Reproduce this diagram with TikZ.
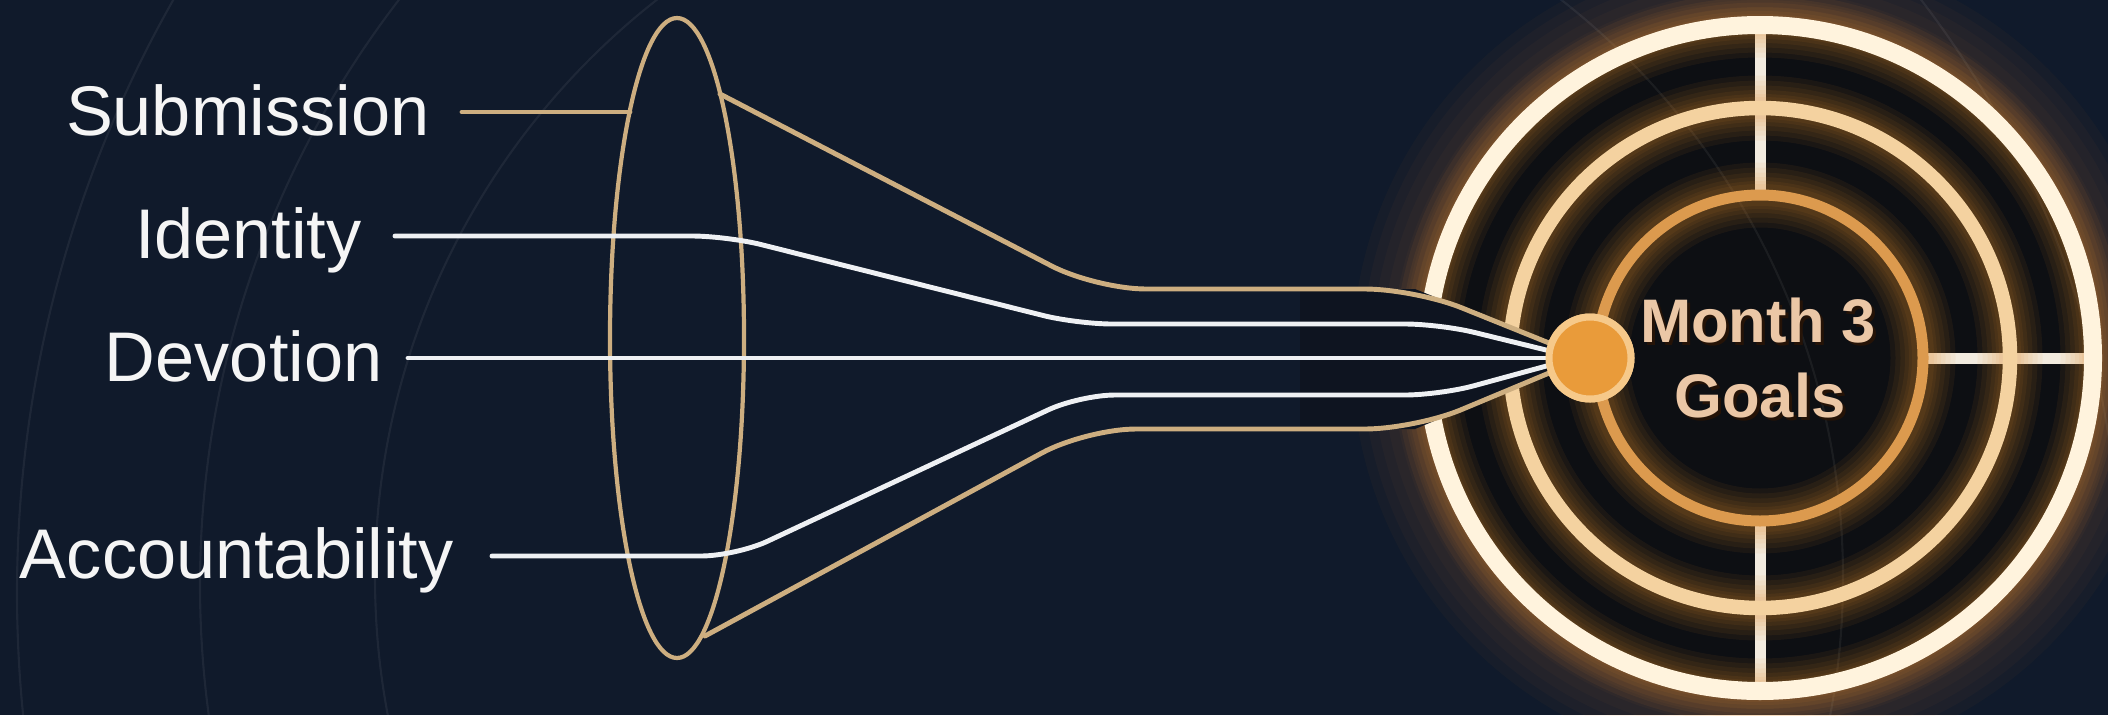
\documentclass[tikz,border=0pt]{standalone}
\usepackage{fontspec}
\setmainfont{Liberation Sans}
\usetikzlibrary{shapes.geometric}
\definecolor{bg}{HTML}{101A2B}
\definecolor{funnelbg}{HTML}{0E1420}
\definecolor{discc}{HTML}{0D0F13}
\definecolor{goldc}{HTML}{CDAE80}
\definecolor{whitec}{HTML}{EEF0F3}
\definecolor{labc}{HTML}{F5F5F5}
\definecolor{glowc}{HTML}{E08A2A}
\definecolor{ringA}{HTML}{FFF3DD}
\definecolor{ringB}{HTML}{F4D2A0}
\definecolor{ringC}{HTML}{DC9A4E}
\definecolor{dotfill}{HTML}{E99B3A}
\definecolor{dotrim}{HTML}{F6C98A}
\definecolor{goalc}{HTML}{EBC7A6}
\definecolor{goalsh}{HTML}{2A1405}
\definecolor{crossc}{HTML}{F2EBDF}
\begin{document}
\begin{tikzpicture}[x=0.1mm,y=-0.1mm,
  lab/.style={text=labc, font=\fontsize{20}{24}\selectfont, inner sep=0, outer sep=0},
  goal/.style={text=goalc, font=\bfseries\fontsize{17.5}{21}\selectfont, inner sep=0},
  goalshadow/.style={text=goalsh, opacity=0.85, font=\bfseries\fontsize{17.5}{21}\selectfont, inner sep=0},
  wline/.style={draw=whitec, line width=1.4pt, line cap=round},
  gline/.style={draw=goldc, line width=1.4pt, line cap=round, line join=round},
  faint/.style={draw=white, opacity=0.06, line width=0.6pt},
  cross/.style={draw=crossc, line width=1.1mm},
  glowline/.style={draw=glowc}
]
\fill[bg] (0,0) rectangle (2108,715);
\useasboundingbox (0,0) rectangle (2108,715);
\begin{scope}
\clip (0,0) rectangle (2108,715);
% outer halo and dark target disc
\foreach \w in {15mm,13mm,11mm,9mm,7mm,5mm,3.5mm}
  \draw[glowline, line width=\w, opacity=0.035] (1760,358) circle[radius=33.3mm];
\fill[discc] (1760,358) circle[radius=33.4mm];
% faint background arcs
\draw[faint] (1219,593) circle[radius=120.2mm];
\draw[faint] (1160,585) circle[radius=96mm];
\draw[faint] (1109,578) circle[radius=73.4mm];
% crosshair
\draw[cross] (1760,23) -- (1760,197);
\draw[cross] (1760,520) -- (1760,690);
\draw[cross] (1922,358) -- (2093,358);
% rings with glow
\foreach \r/\c/\cw in {33.3mm/ringA/1.8mm, 25mm/ringB/1.45mm, 16.3mm/ringC/1.1mm}{
  \foreach \w in {6.5mm,5.5mm,4.5mm,3.6mm,2.8mm,2.2mm}
    \draw[glowline, line width=\w, opacity=0.07] (1760,358) circle[radius=\r];
  \draw[draw=\c, line width=\cw] (1760,358) circle[radius=\r];
}
\end{scope}

% dot node (target hub)
\node[circle, fill=dotfill, draw=dotrim, line width=0.7mm, minimum size=8.2mm, inner sep=0, outer sep=0] (dot) at (1590,358) {};

% funnel interior covering the rings
\fill[funnelbg] (1300,289) -- (1415,289) -- (dot.160) -- (dot.200) -- (1415,429) -- (1300,429) -- cycle;

% ellipse (funnel mouth)
\node[ellipse, draw=goldc, line width=1.2pt, minimum width=13.4mm, minimum height=64mm, inner sep=0, outer sep=0] (ell) at (677,338) {};

% labels
\node[lab, anchor=base west] (sub) at (66,135) {Submission};
\node[lab, anchor=base west] (ide) at (135,258) {Identity};
\node[lab, anchor=base west] (dev) at (105,381) {Devotion};
\node[lab, anchor=base west] (acc) at (20,578) {Accountability};

% named line points
\coordinate (s0) at (462,112);
\coordinate (s1) at (630,112);
\coordinate (i0) at (395,236);
\coordinate (d0) at (408,358);
\coordinate (a0) at (492,556);
\coordinate (gt0) at (720,94);
\coordinate (gb0) at (705,636);

% Submission line (gold)
\draw[gline] (s0) -- (s1);
% funnel outline
\draw[gline] (gt0) [rounded corners=5mm] -- (1096,289) -- (1415,289) [sharp corners] -- (dot.160);
\draw[gline] (gb0) [rounded corners=5mm] -- (1086,429) -- (1415,429) [sharp corners] -- (dot.200);
% white lines
\draw[wline, line join=round] (i0) [rounded corners=3.5mm] -- (727,236) -- (1077,324) -- (1440,324) [sharp corners] -- (dot.170);
\draw[wline] (d0) -- (dot.west);
\draw[wline, line join=round] (a0) [rounded corners=3.5mm] -- (736,556) -- (1080,395) -- (1440,395) [sharp corners] -- (dot.190);

% redraw dot on top
\node[circle, fill=dotfill, draw=dotrim, line width=0.7mm, minimum size=8.2mm, inner sep=0, outer sep=0] (dot2) at (1590,358) {};

% goal text
\node[goalshadow, anchor=base] (m3s) at (1761,345) {Month 3};
\node[goalshadow, anchor=base] (gls) at (1763,420) {Goals};
\node[goal, anchor=base] (m3) at (1758,342) {Month 3};
\node[goal, anchor=base] (gl) at (1760,417) {Goals};
\end{tikzpicture}
\end{document}
